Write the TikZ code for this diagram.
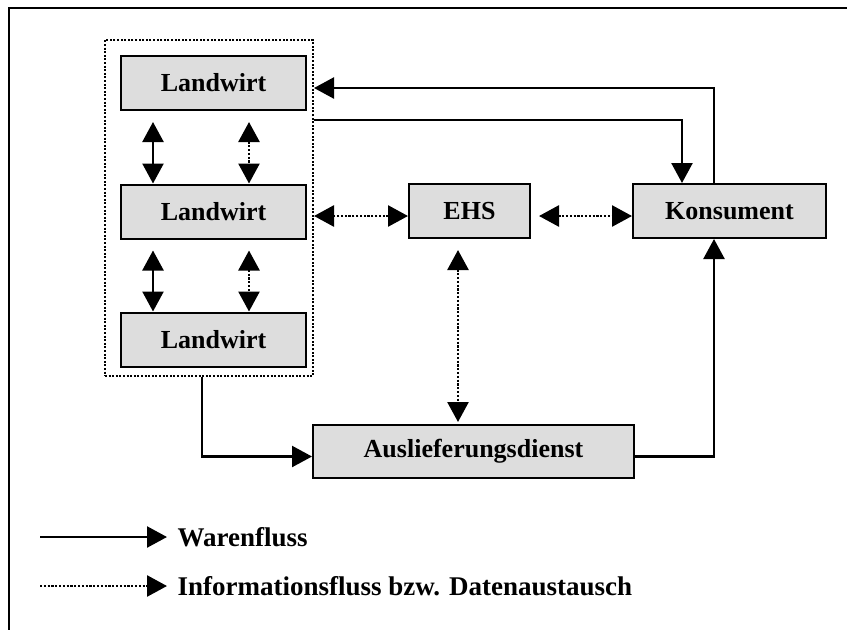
\documentclass[tikz,border=0pt]{standalone}
\usepackage{fontspec}
\setmainfont{Liberation Serif}
\definecolor{boxgray}{RGB}{221,221,221}
\usetikzlibrary{arrows.meta,positioning}

\begin{document}
\begin{tikzpicture}[x=1pt,y=-1pt,
    every node/.style={font=\fontsize{26}{30}\selectfont\bfseries},
    box/.style={draw,line width=2pt,fill=boxgray,minimum height=54pt},
    ware/.style={line width=2.4pt,-{Triangle[length=20pt,width=21pt]}},
    info/.style={line width=2.6pt,dash pattern=on 2.2pt off 1.6pt,
                 -{Triangle[length=20pt,width=21pt]}},
    both/.style={{Triangle[length=20pt,width=21pt]}-{Triangle[length=20pt,width=21pt]}},
    legend/.style={anchor=west,font=\fontsize{27}{30}\selectfont\bfseries}]
  \useasboundingbox (0,0) rectangle (847,630);
  \draw[line width=2.6pt] (847,8) -- (9,8) -- (9,630);
  \node[draw,line width=2pt,dash pattern=on 2pt off 1.6pt,
        minimum width=208pt,minimum height=336pt] (grp) at (209,208) {};
  \node[box,minimum width=185pt] (lw1) at (213.5,83) {Landwirt};
  \node[box,minimum width=185pt] (lw2) at (213.5,211.5) {Landwirt};
  \node[box,minimum width=185pt] (lw3) at (213.5,339.5) {Landwirt};
  \node[box,minimum width=121pt] (ehs) at (469.5,211) {EHS};
  \node[box,minimum width=193pt] (kons) at (729.5,211) {Konsument};
  \node[box,minimum width=321pt,minimum height=53pt] (aus) at (473.5,451.5)
        {Auslieferungsdienst};
  \draw[ware,both] ([xshift=-60.5pt,yshift=-11pt]lw1.south) -- ([xshift=-60.5pt]lw1.south |- lw2.north);
  \draw[info,both] ([xshift=35.5pt,yshift=-11pt]lw1.south) -- ([xshift=35.5pt]lw1.south |- lw2.north);
  \draw[ware,both] ([xshift=-60.5pt,yshift=-11pt]lw2.south) -- ([xshift=-60.5pt]lw2.south |- lw3.north);
  \draw[info,both] ([xshift=35.5pt,yshift=-11pt]lw2.south) -- ([xshift=35.5pt]lw2.south |- lw3.north);
  \draw[ware] ([xshift=-15.5pt]kons.north) |- ([yshift=-49pt]grp.north east);
  \draw[ware] ([yshift=-81pt]grp.north east) -| ([xshift=-47.5pt]kons.north);
  \draw[info,both] ([yshift=-5pt]ehs.west) coordinate (ew) -- (ew -| grp.east);
  \draw[info,both] ([xshift=8pt,yshift=-5pt]ehs.east) -- ([yshift=-5pt]kons.west);
  \draw[info,both] ([xshift=-11.5pt,yshift=-11pt]ehs.south) -- ([xshift=-15.5pt,yshift=2pt]aus.north);
  \draw[ware] ([xshift=-7pt]grp.south) |- ([yshift=-5pt]aus.west);
  \draw[ware] ([yshift=-5pt]aus.east) -| ([xshift=-15.5pt]kons.south);
  \coordinate (lg1) at (40,537);
  \coordinate (lg2) at (40,586);
  \node[legend] (wf) at (174,537) {Warenfluss};
  \node[legend] (inf) at (174,586) {Informationsfluss bzw. Datenaustausch};
  \draw[ware] (lg1) -- ([xshift=-7pt]wf.west);
  \draw[info] (lg2) -- ([xshift=-7pt]inf.west);
\end{tikzpicture}
\end{document}
